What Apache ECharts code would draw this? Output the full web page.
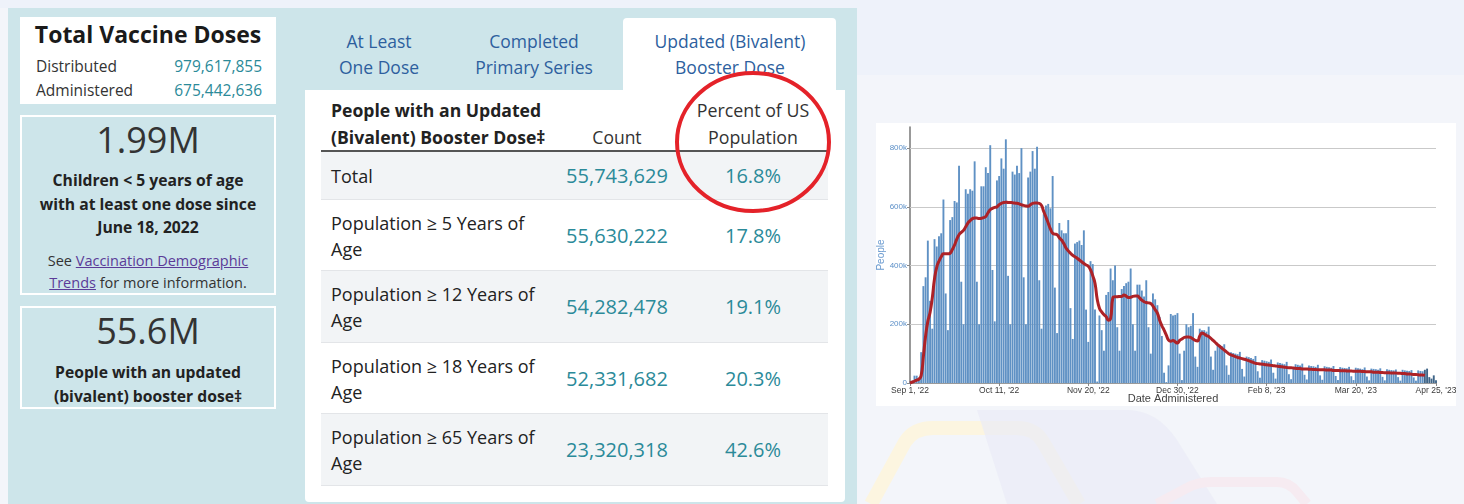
<!DOCTYPE html>
<html>
<head>
<meta charset="utf-8">
<script src="https://cdn.jsdelivr.net/npm/echarts@6/dist/echarts.min.js"></script>
<style>
html,body{margin:0;padding:0;}
body{width:1464px;height:504px;overflow:hidden;position:relative;background:#f3f5fa;font-family:"Open Sans","Noto Sans",sans-serif;color:#222;}
.abs{position:absolute;}
.teal{color:#2b8a99;}
.ctr{text-align:center;}
</style>
</head>
<body>
<script>
// ---------- DATA ----------
const startDate = '2022-09-01';
// daily doses administered (thousands of people), Sep 1 2022 .. Apr 25 2023
const dailyDoses = [
  2, 8, 25, 25,
  10, 105, 330, 360, 485, 280, 185,
  490, 465, 500, 510, 625, 305, 180,
  555, 565, 620, 615, 740, 345, 200,
  660, 645, 660, 655, 755, 345, 200,
  670, 670, 735, 715, 810, 385, 210,
  690, 705, 765, 730, 830, 365, 200,
  720, 710, 740, 715, 800, 360, 200,
  700, 720, 790, 730, 805, 350, 185,
  575, 605, 610, 595, 705, 325, 170,
  545, 520, 510, 510, 555, 255, 150,
  475, 480, 485, 470, 520, 250, 140,
  415, 405, 250, 5, 230, 180, 110,
  300, 310, 390, 350, 400, 190, 110,
  320, 330, 340, 345, 390, 200, 110,
  335, 335, 315, 295, 350, 190, 100,
  305, 285, 265, 225, 160, 35, 3,
  60, 235, 230, 232, 238, 100, 10,
  110, 200, 190, 195, 238, 90, 55,
  185, 180, 180, 175, 192, 90, 45,
  110, 130, 128, 125, 132, 60, 28,
  105, 102, 100, 98, 106, 48, 22,
  90, 88, 85, 82, 92, 40, 18,
  78, 76, 74, 72, 80, 35, 15,
  70, 68, 66, 64, 72, 30, 13,
  52, 64, 62, 60, 66, 28, 12,
  60, 58, 57, 55, 62, 26, 11,
  57, 55, 54, 52, 58, 24, 10,
  54, 52, 51, 50, 55, 23, 10,
  52, 50, 49, 47, 53, 22, 9,
  49, 48, 47, 45, 50, 21, 9,
  47, 45, 44, 43, 46, 20, 8,
  45, 43, 42, 41, 44, 19, 8,
  43, 41, 40, 45, 49, 20, 15,
  26, 9
];
// 7-day average line (thousands)
const sevenDayAvg = [
  0,3,6,10,13,25,90,160,210,240,290,355,395,415,430,440,440,440,442,455,
  470,490,505,513,520,532,545,553,560,562,562,560,561,563,567,580,590,595,598,600,
  607,612,615,616,615,615,614,613,612,610,607,605,603,602,607,612,613,613,612,605,
  584,565,545,525,510,507,505,495,487,475,460,450,442,435,430,425,419,413,407,402,
  398,385,365,340,285,255,242,233,226,214,220,290,294,294,295,295,300,296,291,292,
  295,296,296,290,282,277,274,273,271,262,250,238,214,195,180,163,146,142,145,140,
  136,145,150,155,157,157,155,150,145,143,160,170,167,162,158,152,145,138,131,125,
  118,112,106,100,96,93,90,87,85,83,81,79,76,73,70,67,66,65,64,63,
  62,61,60,59,58,57,56,55,54,53,52,52,51,50,49,49,48,48,48,47,
  47,46,46,45,45,45,45,44,44,44,43,43,43,42,42,42,41,41,41,40,
  40,40,40,39,39,38,38,38,37,37,37,36,36,35,35,35,34,34,34,33,
  33,32,32,31,31,30,29,29,28,27,27,26
];
const provisionalFrom = 231; // last days drawn darker
const tickIndex = [0, 40, 80, 120, 160, 200, 236];
const tickLabels = ["Sep 1, '22", "Oct 11, '22", "Nov 20, '22", "Dec 30, '22", "Feb 8, '23", "Mar 20, '23", "Apr 25, '23"];
const yTicks = [200, 400, 600, 800];

const totalDoses = [["Distributed", "979,617,855"], ["Administered", "675,442,636"]];
const tabs = [["At Least", "One Dose"], ["Completed", "Primary Series"], ["Updated (Bivalent)", "Booster Dose"]];
const rowLabels = [["Total"], ["Population \u2265 5 Years of", "Age"], ["Population \u2265 12 Years of", "Age"], ["Population \u2265 18 Years of", "Age"], ["Population \u2265 65 Years of", "Age"]];
const rowCounts = ["55,743,629", "55,630,222", "54,282,478", "52,331,682", "23,320,318"];
const rowPercents = ["16.8%", "17.8%", "19.1%", "20.3%", "42.6%"];
</script>

<!-- background shapes -->
<div class="abs" style="left:0;top:0;width:1464px;height:8px;background:#eef2fa;"></div>
<div class="abs" style="left:857px;top:0;width:607px;height:75px;background:#eef2fa;"></div>
<svg class="abs" style="left:857px;top:400px;" width="607" height="104">
  <path d="M14,104 L48,42 Q57,28 76,28 L160,28 Q178,28 186,42 L222,104" fill="none" stroke="#fcf5e0" stroke-width="14"/>
  <path d="M120,10 L270,10 Q300,10 320,40 L360,104 L150,104 Z" fill="#e9ebf6" opacity="0.7"/>
  <path d="M300,104 L330,88 Q340,82 355,82 L420,82 Q432,82 440,92 L450,104" fill="none" stroke="#f6ebf1" stroke-width="10"/>
</svg>

<!-- left teal panel -->
<div class="abs" style="left:8px;top:8px;width:849px;height:500px;background:#cde5ea;"></div>

<!-- box 1 -->
<div class="abs" id="box1" style="left:20px;top:17px;width:256px;height:87px;background:#fff;"></div>
<!-- box 2 -->
<div class="abs" style="left:20px;top:115px;width:256px;height:180px;border:2px solid #fff;box-sizing:border-box;"></div>
<div class="abs ctr" style="left:20px;top:119px;width:256px;font-size:36px;line-height:42px;color:#333;">1.99M</div>
<div class="abs ctr" style="left:20px;top:169px;width:256px;font-size:15.7px;line-height:23.5px;font-weight:700;color:#222;">Children &lt; 5 years of age<br>with at least one dose since<br>June 18, 2022</div>
<div class="abs ctr" style="left:20px;top:250px;width:256px;font-size:14.5px;line-height:22px;color:#333;">See <span style="color:#5b3b98;text-decoration:underline;">Vaccination Demographic<br>Trends</span> for more information.</div>
<!-- box 3 -->
<div class="abs" style="left:20px;top:306px;width:256px;height:103px;border:2px solid #fff;box-sizing:border-box;"></div>
<div class="abs ctr" style="left:20px;top:310px;width:256px;font-size:36px;line-height:42px;color:#333;">55.6M</div>
<div class="abs ctr" style="left:20px;top:360px;width:256px;font-size:15.7px;line-height:24px;font-weight:700;color:#222;">People with an updated<br>(bivalent) booster dose&#8225;</div>

<!-- tabs -->
<div class="abs" style="left:623px;top:18px;width:213px;height:80px;background:#fff;border-radius:4px 4px 0 0;"></div>
<div id="tabs"></div>

<!-- table card -->
<div class="abs" style="left:305px;top:90px;width:540px;height:412px;background:#fff;border-radius:0 0 4px 4px;"></div>
<div class="abs" style="left:331px;top:97px;font-size:17.6px;line-height:27px;font-weight:700;color:#222;">People with an Updated<br>(Bivalent) Booster Dose&#8225;</div>
<div class="abs ctr" style="left:567px;top:124px;width:100px;font-size:17.5px;line-height:27px;color:#333;">Count</div>
<div class="abs ctr" style="left:683px;top:97px;width:140px;font-size:17.8px;line-height:27px;color:#333;">Percent of US<br>Population</div>
<div class="abs" style="left:321px;top:150px;width:507px;height:1.5px;background:#555;"></div>
<div id="rows"></div>

<!-- red circle -->
<svg class="abs" style="left:670px;top:66px;" width="170" height="155">
  <ellipse cx="83" cy="76" rx="76" ry="69" fill="none" stroke="#e42229" stroke-width="4"/>
</svg>

<!-- chart card -->
<div class="abs" style="left:876px;top:123px;width:580px;height:283px;background:#fff;"></div>
<div class="abs" id="chart" style="left:876px;top:123px;width:580px;height:283px;"></div>

<script>
// build static panels from arrays
(function(){
  const b1 = document.getElementById('box1');
  let h = '<div class="abs ctr" style="left:0;top:3px;width:256px;font-size:23px;line-height:28px;font-weight:700;color:#1a1a1a;">Total Vaccine Doses</div>';
  totalDoses.forEach((r, k) => {
    const top = 39 + k * 24;
    h += '<div class="abs" style="left:16px;top:' + top + 'px;font-size:15.5px;line-height:20px;color:#333;">' + r[0] + '</div>';
    h += '<div class="abs teal" style="right:14px;top:' + top + 'px;font-size:15.5px;line-height:20px;text-align:right;">' + r[1] + '</div>';
  });
  b1.innerHTML = h;

  const centers = [379, 534, 730];
  let t = '';
  tabs.forEach((tb, k) => {
    t += '<div class="abs ctr" style="left:' + (centers[k] - 100) + 'px;top:28px;width:200px;font-size:17.5px;line-height:26px;color:#2d5f9e;">' + tb[0] + '<br>' + tb[1] + '</div>';
  });
  document.getElementById('tabs').innerHTML = t;

  const rowTops = [152, 200, 271, 343, 414];
  const rowH = [48, 71, 72, 71, 72];
  let r = '';
  rowLabels.forEach((lab, k) => {
    const top = rowTops[k], hh = rowH[k];
    const bg = (k % 2 === 0) ? '#f2f4f6' : '#ffffff';
    r += '<div class="abs" style="left:321px;top:' + top + 'px;width:507px;height:' + hh + 'px;background:' + bg + ';border-bottom:1px solid #e3e5e8;box-sizing:border-box;"></div>';
    const mid = top + hh / 2;
    const txtTop = mid - lab.length * 13;
    r += '<div class="abs" style="left:331px;top:' + txtTop + 'px;font-size:18px;line-height:26px;color:#222;">' + lab.join('<br>') + '</div>';
    r += '<div class="abs ctr teal" style="left:547px;top:' + (mid - 14) + 'px;width:140px;font-size:20px;line-height:28px;">' + rowCounts[k] + '</div>';
    r += '<div class="abs ctr teal" style="left:683px;top:' + (mid - 14) + 'px;width:140px;font-size:20px;line-height:28px;">' + rowPercents[k] + '</div>';
  });
  document.getElementById('rows').innerHTML = r;
})();

// chart
const categories = [];
(function(){
  const d0 = new Date(startDate + 'T12:00:00Z');
  for (let i = 0; i < dailyDoses.length; i++) {
    const d = new Date(d0.getTime() + i * 86400000);
    categories.push(d.toISOString().slice(0, 10));
  }
})();

const chart = echarts.init(document.getElementById('chart'), null, {renderer: 'canvas'});
const fontFam = '"Liberation Sans", Arial, sans-serif';
chart.setOption({
  animation: false,
  grid: {left: 34, right: 20, top: 4, bottom: 23, containLabel: false, outerBoundsMode: 'none'},
  xAxis: {
    type: 'category',
    data: categories,
    boundaryGap: false,
    axisLine: {show: true, lineStyle: {color: '#9a9a9a', width: 1}},
    axisTick: {show: true, interval: (i) => tickIndex.includes(i), length: 3, lineStyle: {color: '#888'}},
    axisLabel: {
      interval: (i) => tickIndex.includes(i),
      formatter: (v, i) => { const k = tickIndex.indexOf(i); return k >= 0 ? tickLabels[k] : ''; },
      color: '#3a3a3a', fontSize: 8.5, margin: 3, fontFamily: fontFam, hideOverlap: false
    },
    name: 'Date Administered',
    nameLocation: 'middle',
    nameGap: 10,
    nameMoveOverlap: false,
    nameTextStyle: {color: '#444', fontSize: 11, fontFamily: fontFam}
  },
  yAxis: {
    type: 'value',
    min: 0, max: 872, interval: 200,
    axisLine: {show: true, lineStyle: {color: '#777', width: 1.5}},
    axisTick: {show: true, length: 3, lineStyle: {color: '#888'}},
    splitLine: {show: false},
    axisLabel: {
      showMaxLabel: false,
      formatter: (v) => (v % 200 !== 0 ? '' : (v === 0 ? '0' : v + 'k')),
      color: '#5b8fc7', fontSize: 8, margin: 3, fontFamily: fontFam
    },
    name: 'People',
    nameLocation: 'middle',
    nameGap: 24,
    nameMoveOverlap: false,
    nameTextStyle: {color: '#6b9bd0', fontSize: 10, fontFamily: fontFam}
  },
  series: [
    {
      type: 'bar',
      data: dailyDoses,
      barCategoryGap: '15%',
      itemStyle: {color: (p) => p.dataIndex >= provisionalFrom ? '#3f6588' : '#5f91c4'},
      markLine: {
        silent: true, symbol: 'none', z: 1,
        label: {show: false},
        lineStyle: {color: '#c9c9c9', type: 'solid', width: 1},
        data: yTicks.map(v => ({yAxis: v}))
      },
      z: 2
    },
    {
      type: 'line',
      data: sevenDayAvg,
      smooth: true,
      showSymbol: false,
      lineStyle: {color: '#ad2227', width: 3},
      itemStyle: {color: '#ad2227'},
      z: 3
    }
  ]
});
</script>
</body>
</html>
